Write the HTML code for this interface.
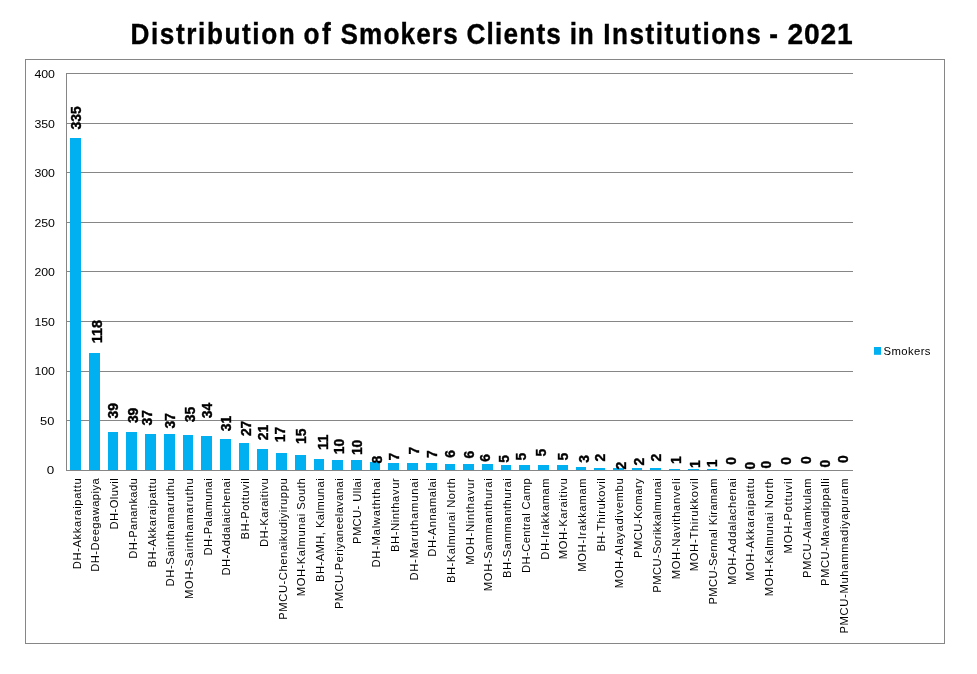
<!DOCTYPE html>
<html lang="en"><head><meta charset="utf-8"><title>Distribution of Smokers Clients in Institutions - 2021</title>
<style>html,body{margin:0;padding:0;background:#fff}body{width:977px;height:674px;overflow:hidden}svg{display:block}text{font-family:"Liberation Sans",sans-serif;fill:#000}.b{font-weight:bold}</style>
</head><body>
<svg width="977" height="674" viewBox="0 0 977 674">
<rect x="0" y="0" width="977" height="674" fill="#fff"/>
<rect x="25.5" y="59.5" width="919" height="584" fill="none" stroke="#868686" stroke-width="1"/>
<g fill="#868686" shape-rendering="crispEdges">
<rect x="66" y="73" width="787" height="1"/>
<rect x="66" y="123" width="787" height="1"/>
<rect x="66" y="172" width="787" height="1"/>
<rect x="66" y="222" width="787" height="1"/>
<rect x="66" y="271" width="787" height="1"/>
<rect x="66" y="321" width="787" height="1"/>
<rect x="66" y="371" width="787" height="1"/>
<rect x="66" y="420" width="787" height="1"/>
<rect x="66" y="470" width="787" height="1"/>
<rect x="66" y="73" width="1" height="398"/>
</g>
<g fill="#00B0F0" shape-rendering="crispEdges">
<rect x="70" y="138" width="11" height="332"/>
<rect x="89" y="353" width="11" height="117"/>
<rect x="108" y="432" width="10" height="38"/>
<rect x="126" y="432" width="11" height="38"/>
<rect x="145" y="434" width="11" height="36"/>
<rect x="164" y="434" width="11" height="36"/>
<rect x="183" y="435" width="10" height="35"/>
<rect x="201" y="436" width="11" height="34"/>
<rect x="220" y="439" width="11" height="31"/>
<rect x="239" y="443" width="10" height="27"/>
<rect x="257" y="449" width="11" height="21"/>
<rect x="276" y="453" width="11" height="17"/>
<rect x="295" y="455" width="11" height="15"/>
<rect x="314" y="459" width="10" height="11"/>
<rect x="332" y="460" width="11" height="10"/>
<rect x="351" y="460" width="11" height="10"/>
<rect x="370" y="462" width="10" height="8"/>
<rect x="388" y="463" width="11" height="7"/>
<rect x="407" y="463" width="11" height="7"/>
<rect x="426" y="463" width="11" height="7"/>
<rect x="445" y="464" width="10" height="6"/>
<rect x="463" y="464" width="11" height="6"/>
<rect x="482" y="464" width="11" height="6"/>
<rect x="501" y="465" width="10" height="5"/>
<rect x="519" y="465" width="11" height="5"/>
<rect x="538" y="465" width="11" height="5"/>
<rect x="557" y="465" width="11" height="5"/>
<rect x="576" y="467" width="10" height="3"/>
<rect x="594" y="468" width="11" height="2"/>
<rect x="613" y="468" width="11" height="2"/>
<rect x="632" y="468" width="10" height="2"/>
<rect x="650" y="468" width="11" height="2"/>
<rect x="669" y="469" width="11" height="1"/>
<rect x="688" y="469" width="11" height="1"/>
<rect x="707" y="469" width="10" height="1"/>
</g>
<g font-size="11.2" text-anchor="end">
<text x="55" y="77.9" textLength="20.6" lengthAdjust="spacingAndGlyphs">400</text>
<text x="55" y="127.9" textLength="20.6" lengthAdjust="spacingAndGlyphs">350</text>
<text x="55" y="176.9" textLength="20.6" lengthAdjust="spacingAndGlyphs">300</text>
<text x="55" y="226.9" textLength="20.6" lengthAdjust="spacingAndGlyphs">250</text>
<text x="55" y="275.9" textLength="20.6" lengthAdjust="spacingAndGlyphs">200</text>
<text x="55" y="325.9" textLength="20.6" lengthAdjust="spacingAndGlyphs">150</text>
<text x="55" y="375.0" textLength="20.6" lengthAdjust="spacingAndGlyphs">100</text>
<text x="54.3" y="425.0" textLength="14.3" lengthAdjust="spacingAndGlyphs">50</text>
<text x="54.3" y="474.0" textLength="7.5" lengthAdjust="spacingAndGlyphs">0</text>
</g>
<g font-size="11.2" text-anchor="end">
<text transform="translate(80.7,478.3) rotate(-90)" textLength="91.0" lengthAdjust="spacing">DH-Akkaraipattu</text>
<text transform="translate(99.4,478.3) rotate(-90)" textLength="93.5" lengthAdjust="spacing">DH-Deegawapiya</text>
<text transform="translate(118.1,478.3) rotate(-90)" textLength="51.1" lengthAdjust="spacing">DH-Oluvil</text>
<text transform="translate(136.8,478.3) rotate(-90)" textLength="80.4" lengthAdjust="spacing">DH-Panankadu</text>
<text transform="translate(155.5,478.3) rotate(-90)" textLength="89.2" lengthAdjust="spacing">BH-Akkaraipattu</text>
<text transform="translate(174.2,478.3) rotate(-90)" textLength="108.1" lengthAdjust="spacing">DH-Sainthamaruthu</text>
<text transform="translate(192.9,478.3) rotate(-90)" textLength="120.7" lengthAdjust="spacing">MOH-Sainthamaruthu</text>
<text transform="translate(211.7,478.3) rotate(-90)" textLength="77.1" lengthAdjust="spacing">DH-Palamunai</text>
<text transform="translate(230.4,478.3) rotate(-90)" textLength="97.3" lengthAdjust="spacing">DH-Addalaichenai</text>
<text transform="translate(249.1,478.3) rotate(-90)" textLength="61.2" lengthAdjust="spacing">BH-Pottuvil</text>
<text transform="translate(267.8,478.3) rotate(-90)" textLength="68.8" lengthAdjust="spacing">DH-Karaitivu</text>
<text transform="translate(286.5,478.3) rotate(-90)" textLength="141.4" lengthAdjust="spacing">PMCU-Chenaikudiyiruppu</text>
<text transform="translate(305.2,478.3) rotate(-90)" textLength="117.9" lengthAdjust="spacing">MOH-Kalmunai South</text>
<text transform="translate(323.9,478.3) rotate(-90)" textLength="103.6" lengthAdjust="spacing">BH-AMH, Kalmunai</text>
<text transform="translate(342.6,478.3) rotate(-90)" textLength="130.8" lengthAdjust="spacing">PMCU-Periyaneelavanai</text>
<text transform="translate(361.4,478.3) rotate(-90)" textLength="65.7" lengthAdjust="spacing">PMCU- Ullai</text>
<text transform="translate(380.1,478.3) rotate(-90)" textLength="89.2" lengthAdjust="spacing">DH-Malwaththai</text>
<text transform="translate(398.8,478.3) rotate(-90)" textLength="73.8" lengthAdjust="spacing">BH-Ninthavur</text>
<text transform="translate(417.5,478.3) rotate(-90)" textLength="102.3" lengthAdjust="spacing">DH-Maruthamunai</text>
<text transform="translate(436.2,478.3) rotate(-90)" textLength="78.4" lengthAdjust="spacing">DH-Annamalai</text>
<text transform="translate(454.9,478.3) rotate(-90)" textLength="104.8" lengthAdjust="spacing">BH-Kalmunai North</text>
<text transform="translate(473.6,478.3) rotate(-90)" textLength="86.4" lengthAdjust="spacing">MOH-Ninthavur</text>
<text transform="translate(492.4,478.3) rotate(-90)" textLength="112.9" lengthAdjust="spacing">MOH-Sammanthurai</text>
<text transform="translate(511.1,478.3) rotate(-90)" textLength="99.8" lengthAdjust="spacing">BH-Sammanthurai</text>
<text transform="translate(529.8,478.3) rotate(-90)" textLength="94.7" lengthAdjust="spacing">DH-Central Camp</text>
<text transform="translate(548.5,478.3) rotate(-90)" textLength="81.4" lengthAdjust="spacing">DH-Irakkamam</text>
<text transform="translate(567.2,478.3) rotate(-90)" textLength="80.9" lengthAdjust="spacing">MOH-Karaitivu</text>
<text transform="translate(585.9,478.3) rotate(-90)" textLength="93.5" lengthAdjust="spacing">MOH-Irakkamam</text>
<text transform="translate(604.6,478.3) rotate(-90)" textLength="73.3" lengthAdjust="spacing">BH-Thirukovil</text>
<text transform="translate(623.4,478.3) rotate(-90)" textLength="109.9" lengthAdjust="spacing">MOH-Alayadivembu</text>
<text transform="translate(642.1,478.3) rotate(-90)" textLength="79.6" lengthAdjust="spacing">PMCU-Komary</text>
<text transform="translate(660.8,478.3) rotate(-90)" textLength="114.4" lengthAdjust="spacing">PMCU-Sorikkalmunai</text>
<text transform="translate(679.5,478.3) rotate(-90)" textLength="101.0" lengthAdjust="spacing">MOH-Navithanveli</text>
<text transform="translate(698.2,478.3) rotate(-90)" textLength="93.0" lengthAdjust="spacing">MOH-Thirukkovil</text>
<text transform="translate(716.9,478.3) rotate(-90)" textLength="126.3" lengthAdjust="spacing">PMCU-Sennal Kiramam</text>
<text transform="translate(735.6,478.3) rotate(-90)" textLength="106.6" lengthAdjust="spacing">MOH-Addalachenai</text>
<text transform="translate(754.4,478.3) rotate(-90)" textLength="102.8" lengthAdjust="spacing">MOH-Akkaraipattu</text>
<text transform="translate(773.1,478.3) rotate(-90)" textLength="117.9" lengthAdjust="spacing">MOH-Kalmunai North</text>
<text transform="translate(791.8,478.3) rotate(-90)" textLength="75.1" lengthAdjust="spacing">MOH-Pottuvil</text>
<text transform="translate(810.5,478.3) rotate(-90)" textLength="99.8" lengthAdjust="spacing">PMCU-Alamkulam</text>
<text transform="translate(829.2,478.3) rotate(-90)" textLength="107.6" lengthAdjust="spacing">PMCU-Mavadippalli</text>
<text transform="translate(847.9,478.3) rotate(-90)" textLength="155.3" lengthAdjust="spacing">PMCU-Muhammadiyapuram</text>
</g>
<g font-size="14.8" class="b" stroke="#000" stroke-width="0.4">
<text transform="translate(81.0,129.4) rotate(-90)" textLength="23.1" lengthAdjust="spacingAndGlyphs">335</text>
<text transform="translate(101.7,343.2) rotate(-90)" textLength="23.1" lengthAdjust="spacingAndGlyphs">118</text>
<text transform="translate(117.7,418.5) rotate(-90)" textLength="15.4" lengthAdjust="spacingAndGlyphs">39</text>
<text transform="translate(137.5,423.1) rotate(-90)" textLength="15.4" lengthAdjust="spacingAndGlyphs">39</text>
<text transform="translate(151.7,425.4) rotate(-90)" textLength="15.4" lengthAdjust="spacingAndGlyphs">37</text>
<text transform="translate(175.2,428.4) rotate(-90)" textLength="15.4" lengthAdjust="spacingAndGlyphs">37</text>
<text transform="translate(194.8,422.3) rotate(-90)" textLength="15.4" lengthAdjust="spacingAndGlyphs">35</text>
<text transform="translate(212.0,418.2) rotate(-90)" textLength="15.4" lengthAdjust="spacingAndGlyphs">34</text>
<text transform="translate(231.0,431.3) rotate(-90)" textLength="15.4" lengthAdjust="spacingAndGlyphs">31</text>
<text transform="translate(250.6,436.1) rotate(-90)" textLength="15.4" lengthAdjust="spacingAndGlyphs">27</text>
<text transform="translate(267.8,440.3) rotate(-90)" textLength="15.4" lengthAdjust="spacingAndGlyphs">21</text>
<text transform="translate(285.0,442.3) rotate(-90)" textLength="15.4" lengthAdjust="spacingAndGlyphs">17</text>
<text transform="translate(305.8,444.0) rotate(-90)" textLength="15.4" lengthAdjust="spacingAndGlyphs">15</text>
<text transform="translate(327.9,450.1) rotate(-90)" textLength="15.4" lengthAdjust="spacingAndGlyphs">11</text>
<text transform="translate(344.0,454.2) rotate(-90)" textLength="15.4" lengthAdjust="spacingAndGlyphs">10</text>
<text transform="translate(362.0,455.1) rotate(-90)" textLength="15.4" lengthAdjust="spacingAndGlyphs">10</text>
<text transform="translate(381.8,463.6) rotate(-90)" textLength="7.7" lengthAdjust="spacingAndGlyphs">8</text>
<text transform="translate(399.0,460.4) rotate(-90)" textLength="7.7" lengthAdjust="spacingAndGlyphs">7</text>
<text transform="translate(418.7,454.6) rotate(-90)" textLength="7.7" lengthAdjust="spacingAndGlyphs">7</text>
<text transform="translate(436.7,457.9) rotate(-90)" textLength="7.7" lengthAdjust="spacingAndGlyphs">7</text>
<text transform="translate(454.7,457.7) rotate(-90)" textLength="7.7" lengthAdjust="spacingAndGlyphs">6</text>
<text transform="translate(473.9,458.6) rotate(-90)" textLength="7.7" lengthAdjust="spacingAndGlyphs">6</text>
<text transform="translate(489.9,461.8) rotate(-90)" textLength="7.7" lengthAdjust="spacingAndGlyphs">6</text>
<text transform="translate(508.7,462.8) rotate(-90)" textLength="7.7" lengthAdjust="spacingAndGlyphs">5</text>
<text transform="translate(526.1,460.4) rotate(-90)" textLength="7.7" lengthAdjust="spacingAndGlyphs">5</text>
<text transform="translate(545.7,456.4) rotate(-90)" textLength="7.7" lengthAdjust="spacingAndGlyphs">5</text>
<text transform="translate(567.8,460.5) rotate(-90)" textLength="7.7" lengthAdjust="spacingAndGlyphs">5</text>
<text transform="translate(588.7,462.8) rotate(-90)" textLength="7.7" lengthAdjust="spacingAndGlyphs">3</text>
<text transform="translate(605.0,461.4) rotate(-90)" textLength="7.7" lengthAdjust="spacingAndGlyphs">2</text>
<text transform="translate(626.0,469.6) rotate(-90)" textLength="7.7" lengthAdjust="spacingAndGlyphs">2</text>
<text transform="translate(644.0,465.6) rotate(-90)" textLength="7.7" lengthAdjust="spacingAndGlyphs">2</text>
<text transform="translate(660.7,461.4) rotate(-90)" textLength="7.7" lengthAdjust="spacingAndGlyphs">2</text>
<text transform="translate(681.0,463.9) rotate(-90)" textLength="7.7" lengthAdjust="spacingAndGlyphs">1</text>
<text transform="translate(699.8,467.9) rotate(-90)" textLength="7.7" lengthAdjust="spacingAndGlyphs">1</text>
<text transform="translate(717.0,467.2) rotate(-90)" textLength="7.7" lengthAdjust="spacingAndGlyphs">1</text>
<text transform="translate(736.2,464.7) rotate(-90)" textLength="7.7" lengthAdjust="spacingAndGlyphs">0</text>
<text transform="translate(754.7,469.4) rotate(-90)" textLength="7.7" lengthAdjust="spacingAndGlyphs">0</text>
<text transform="translate(771.1,468.4) rotate(-90)" textLength="7.7" lengthAdjust="spacingAndGlyphs">0</text>
<text transform="translate(790.7,464.7) rotate(-90)" textLength="7.7" lengthAdjust="spacingAndGlyphs">0</text>
<text transform="translate(810.7,463.9) rotate(-90)" textLength="7.7" lengthAdjust="spacingAndGlyphs">0</text>
<text transform="translate(829.7,467.6) rotate(-90)" textLength="7.7" lengthAdjust="spacingAndGlyphs">0</text>
<text transform="translate(847.7,463.0) rotate(-90)" textLength="7.7" lengthAdjust="spacingAndGlyphs">0</text>
</g>
<rect x="874" y="347" width="7" height="7.8" fill="#00B0F0"/>
<text x="883.5" y="354.7" font-size="11.3" textLength="47.0" lengthAdjust="spacing">Smokers</text>
<g font-size="29.4" class="b" stroke="#000" stroke-width="0.35">
<text transform="translate(130.5,44.3) scale(0.89,1)" textLength="184.5" lengthAdjust="spacing">Distribution</text>
<text transform="translate(303.6,44.3) scale(0.89,1)" textLength="30.6" lengthAdjust="spacing">of</text>
<text transform="translate(340.5,44.3) scale(0.89,1)" textLength="131.7" lengthAdjust="spacing">Smokers</text>
<text transform="translate(466.4,44.3) scale(0.89,1)" textLength="106.2" lengthAdjust="spacing">Clients</text>
<text transform="translate(569.8,44.3) scale(0.89,1)" textLength="26.9" lengthAdjust="spacing">in</text>
<text transform="translate(603.2,44.3) scale(0.89,1)" textLength="177.1" lengthAdjust="spacing">Institutions</text>
<text transform="translate(769.2,44.3) scale(0.89,1)" textLength="12.4" lengthAdjust="spacing">-</text>
<text transform="translate(787.6,44.3) scale(0.96,1)" textLength="67.9" lengthAdjust="spacing">2021</text>
</g>
</svg></body></html>
